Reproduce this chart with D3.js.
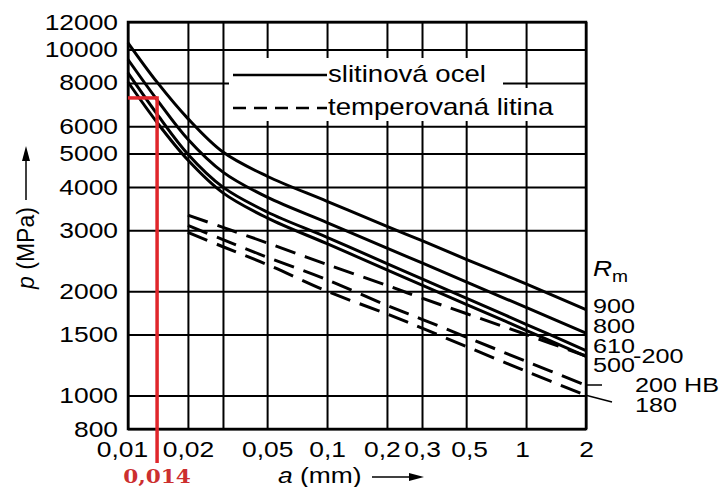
<!DOCTYPE html>
<html lang="cs">
<head>
<meta charset="UTF-8" />
<title>p - a</title>
<style>
  body { margin: 0; background: #fff; }
  svg { display: block; font-family: "Liberation Sans", Arial, sans-serif; }
</style>
</head>
<body>
<svg id="svg" width="727" height="487"></svg>
<script src="https://d3js.org/d3.v7.min.js"></script>
<script>
// a (mm) where the curves were read
const aSolid = [0.01, 0.014, 0.02, 0.03, 0.05, 0.1, 0.2, 0.3, 0.5, 1, 2];
const aDashed = [0.02, 0.03, 0.05, 0.1, 0.2, 0.3, 0.5, 1, 2];

// slitinová ocel, Rm = 900 / 800 / 610 / 500
const p900 = [10450, 8040, 6310, 5050, 4300, 3640, 3080, 2800, 2475, 2100, 1770];
const p800 = [9350, 7150, 5500, 4420, 3740, 3160, 2665, 2415, 2130, 1796, 1515];
const p610 = [8550, 6500, 4980, 4000, 3390, 2865, 2405, 2172, 1910, 1606, 1348];
const p500 = [8050, 6150, 4790, 3850, 3260, 2745, 2306, 2084, 1834, 1543, 1298];

// temperovaná litina, 200 / 200 HB / 180
const d200 = [3320, 3060, 2760, 2390, 2080, 1910, 1725, 1500, 1300];
const d200hb = [3100, 2820, 2510, 2160, 1820, 1660, 1475, 1255, 1070];
const d180 = [2960, 2690, 2390, 2000, 1720, 1565, 1385, 1175, 1000];

const xTicks = [0.01, 0.02, 0.05, 0.1, 0.2, 0.3, 0.5, 1, 2];
const xGrid = [0.01, 0.02, 0.03, 0.05, 0.1, 0.2, 0.3, 0.5, 1, 2];
const yTicks = [800, 1000, 1500, 2000, 3000, 4000, 5000, 6000, 8000, 10000, 12000];

// red reading mark
const markA = 0.014;
const markP = 7240;

const svg = d3.select("#svg");
const x = d3.scaleLog().domain([0.01, 2]).range([128, 586]);
const y = d3.scaleLog().domain([800, 12000]).range([429, 22]);
const W = 586 - 128, H = 429 - 22;
const SX = 1.2; // the scan's lettering is wider than normal

// grid
const gx = svg.append("g").attr("transform", "translate(0,429)")
  .call(d3.axisBottom(x).tickValues(xGrid).tickSize(-H).tickFormat(""));
gx.select(".domain").remove();
gx.selectAll("line").attr("stroke", "#000").attr("stroke-width", 2);

const gy = svg.append("g").attr("transform", "translate(128,0)")
  .call(d3.axisLeft(y).tickValues(yTicks).tickSize(-W).tickFormat(""));
gy.select(".domain").remove();
gy.selectAll("line").attr("stroke", "#000").attr("stroke-width", 2);

// frame
svg.append("rect").attr("x", 128).attr("y", 22).attr("width", W).attr("height", H)
  .attr("fill", "none").attr("stroke", "#000").attr("stroke-width", 2.5);

// legend area blanks the grid
svg.append("rect").attr("x", 229).attr("y", 58).attr("width", 274).attr("height", 63).attr("fill", "#fff");
svg.append("rect").attr("x", 503).attr("y", 88).attr("width", 54).attr("height", 33).attr("fill", "#fff");

// tick labels
const yl = svg.append("g").attr("transform", "translate(128,0)")
  .call(d3.axisLeft(y).tickValues(yTicks).tickFormat(d3.format("d")).tickSize(0));
yl.attr("font-size", 22).attr("font-family", null);
yl.select(".domain").remove();
yl.selectAll("text").attr("x", -10 / SX).attr("transform", `scale(${SX},1)`);

const shift = { 0.01: -6, 0.2: -5, 0.5: 3, 1: -4 };
const xl = svg.append("g").attr("transform", "translate(0,429)")
  .call(d3.axisBottom(x).tickValues(xTicks).tickSize(0)
    .tickFormat(d => String(d).replace(".", ",")));
xl.attr("font-size", 22).attr("font-family", null);
xl.select(".domain").remove();
xl.selectAll("text")
  .attr("dy", null).attr("y", 28)
  .attr("x", d => (shift[d] || 0) / SX)
  .attr("transform", `scale(${SX},1)`);

// curves
const line = d3.line().x(d => x(d[0])).y(d => y(d[1])).curve(d3.curveCatmullRom.alpha(0.5));
[p900, p800, p610, p500].forEach(s => {
  svg.append("path").datum(aSolid.map((a, i) => [a, s[i]]))
    .attr("d", line).attr("fill", "none").attr("stroke", "#000").attr("stroke-width", 3);
});
[d200, d200hb, d180].forEach(s => {
  svg.append("path").datum(aDashed.map((a, i) => [a, s[i]]))
    .attr("d", line).attr("fill", "none").attr("stroke", "#000").attr("stroke-width", 3)
    .attr("stroke-dasharray", "21,10");
});

function txt(x0, y0, t, size, anchor) {
  return svg.append("text")
    .attr("transform", `translate(${x0},${y0}) scale(${SX},1)`)
    .attr("font-size", size)
    .attr("text-anchor", anchor || "start")
    .text(t);
}

// legend
svg.append("line").attr("x1", 233).attr("x2", 327).attr("y1", 75).attr("y2", 75)
  .attr("stroke", "#000").attr("stroke-width", 2.5);
svg.append("line").attr("x1", 233).attr("x2", 327).attr("y1", 108).attr("y2", 108)
  .attr("stroke", "#000").attr("stroke-width", 2.5).attr("stroke-dasharray", "13,8");
txt(328, 82, "slitinová ocel", 23);
txt(328, 115, "temperovaná litina", 23);

// end labels
const rm = svg.append("text")
  .attr("transform", `translate(593,276) scale(${SX},1)`)
  .attr("font-size", 22);
rm.append("tspan").attr("font-style", "italic").text("R");
rm.append("tspan").attr("font-size", 16).attr("dy", 6).text("m");

[["900", 593, 313], ["800", 593, 333], ["610", 593, 353], ["500", 593, 372],
 ["-200", 633, 363], ["200 HB", 635, 392], ["180", 635, 412]]
  .forEach(([t, x0, y0]) => txt(x0, y0, t, 21));

svg.append("line").attr("x1", 585).attr("y1", 385).attr("x2", 602).attr("y2", 385)
  .attr("stroke", "#000").attr("stroke-width", 1.5);
svg.append("line").attr("x1", 585).attr("y1", 395).attr("x2", 612).attr("y2", 402)
  .attr("stroke", "#000").attr("stroke-width", 1.5);

// axis titles
const xt = txt(278, 483, "", 22);
xt.append("tspan").attr("font-style", "italic").text("a");
xt.append("tspan").text(" (mm)");
svg.append("line").attr("x1", 372).attr("x2", 412).attr("y1", 477).attr("y2", 477)
  .attr("stroke", "#000").attr("stroke-width", 1.5);
svg.append("path").attr("d", "M424,477 L409,473 L409,481 Z").attr("fill", "#000");

const yt = svg.append("text")
  .attr("transform", "translate(34,248) rotate(-90)")
  .attr("font-size", 23).attr("text-anchor", "middle");
yt.append("tspan").attr("font-style", "italic").text("p");
yt.append("tspan").text(" (MPa)");
svg.append("line").attr("x1", 26).attr("x2", 26).attr("y1", 200).attr("y2", 158)
  .attr("stroke", "#000").attr("stroke-width", 1.5);
svg.append("path").attr("d", "M26,146 L22,161 L30,161 Z").attr("fill", "#000");

// red reading
const red = "#e0262b";
svg.append("line").attr("x1", x(0.01)).attr("x2", x(markA)).attr("y1", y(markP)).attr("y2", y(markP))
  .attr("stroke", red).attr("stroke-width", 3.5);
svg.append("line").attr("x1", x(markA)).attr("x2", x(markA)).attr("y1", y(markP) - 1.75).attr("y2", 463)
  .attr("stroke", red).attr("stroke-width", 3.5);
svg.append("text")
  .attr("transform", `translate(${x(markA)},483) scale(${SX},1)`)
  .attr("font-family", "'DejaVu Serif', serif").attr("font-weight", "bold")
  .attr("font-size", 18).attr("text-anchor", "middle").attr("fill", "#cc2f2f")
  .text(String(markA).replace(".", ","));
</script>
</body>
</html>
